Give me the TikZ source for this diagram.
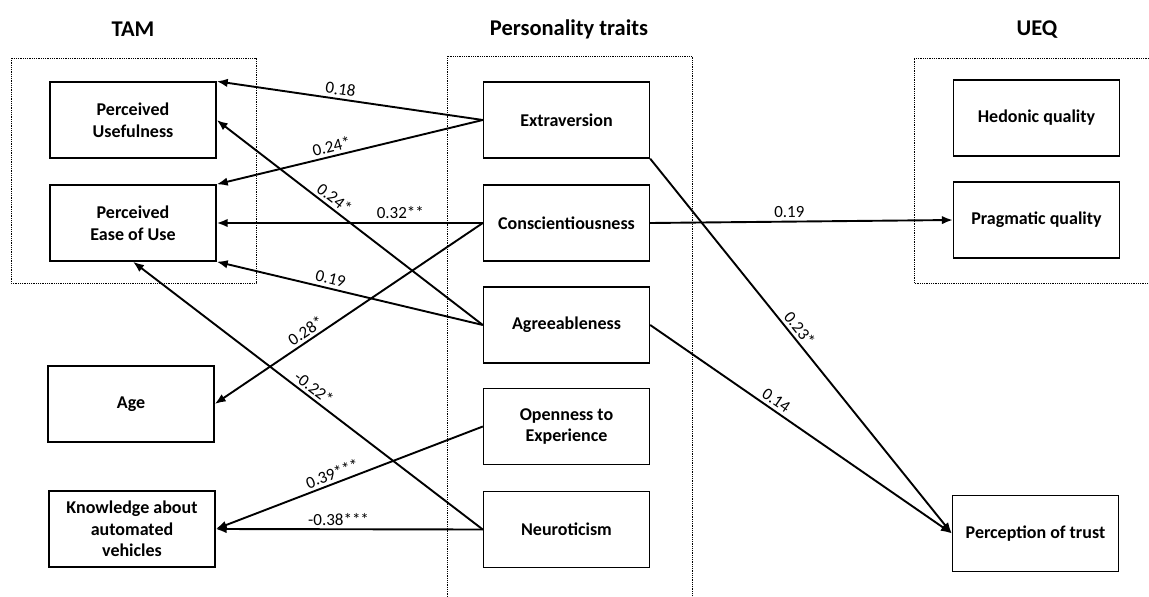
\documentclass[tikz,border=0pt]{standalone}
\usepackage{fontspec}
\setmainfont{Carlito}
\usetikzlibrary{arrows.meta}
\begin{document}
\begin{tikzpicture}[x=1pt,y=-1pt,
 box/.style={draw, line width=1.4pt, fill=white, minimum width=166pt, minimum height=76pt, inner sep=2pt, align=center, font=\fontsize{18}{21.5}\selectfont\bfseries},
 title/.style={font=\fontsize{22.5}{26}\selectfont\bfseries},
 grp/.style={dash pattern=on 0.9pt off 0.9pt, line width=0.9pt},
 arr/.style={line width=1.9pt, -{Latex[length=11pt,width=8.5pt]}},
 lbl/.style={font=\fontsize{17}{20}\selectfont, sloped, above=1.5pt, inner sep=1.5pt}]
\useasboundingbox (0,0) rectangle (1149,597);
% titles
\node[title] (ttam) at (133,29) {TAM};
\node[title] (tpt) at (569,29) {Personality traits};
\node[title] (tueq) at (1037,30) {UEQ};
% group frames
\draw[grp] (11,58) rectangle (256,283);
\draw[grp] (447,597) -- (447,56) -- (692,56) -- (692,597);
\draw[grp] (1149,58) -- (914,58) -- (914,283) -- (1149,283);
% nodes
\node[box] (pu) at (133,120) {Perceived\\Usefulness};
\node[box] (peou) at (133,223) {Perceived\\Ease of Use};
\node[box] (age) at (131,404) {Age};
\node[box] (know) at (132,529) {Knowledge about\\automated\\vehicles};
\node[box] (ext) at (566.5,120) {Extraversion};
\node[box] (con) at (566.5,223) {Conscientiousness};
\node[box] (agr) at (566.5,325) {Agreeableness};
\node[box] (ope) at (566.5,426.5) {Openness to\\Experience};
\node[box] (neu) at (566.5,529.5) {Neuroticism};
\node[box] (hed) at (1036.5,118) {Hedonic quality};
\node[box] (pra) at (1036.5,220) {Pragmatic quality};
\node[box] (tru) at (1035.5,533.5) {Perception of trust};
% connectors
\draw[arr] (ext.west) -- node[lbl,pos=0.54]{0.18} (pu.north east);
\draw[arr] (ext.west) -- node[lbl,pos=0.56]{0.24*} (peou.north east);
\draw[arr] (agr.west) -- node[lbl,pos=0.58]{0.24*} (pu.east);
\draw[arr] (con.west) -- node[lbl,pos=0.31]{0.32**} (peou.east);
\draw[arr] (agr.west) -- node[lbl,pos=0.58]{0.19} (peou.south east);
\draw[arr] (con.west) -- node[lbl,pos=0.64]{0.28*} (age.east);
\draw[arr] (neu.west) -- node[lbl,pos=0.5]{-0.22*} (peou.south);
\draw[arr] (ope.west) -- node[lbl,pos=0.55]{0.39***} (know.east);
\draw[arr] (neu.west) -- node[lbl,pos=0.54]{-0.38***} (know.east);
\draw[arr] (con.east) -- node[lbl,pos=0.46]{0.19} (pra.west);
\draw[arr] (ext.south east) -- node[lbl,pos=0.47]{0.23*} (tru.west);
\draw[arr] (agr.east) -- node[lbl,pos=0.40]{0.14} (tru.west);
\end{tikzpicture}
\end{document}
